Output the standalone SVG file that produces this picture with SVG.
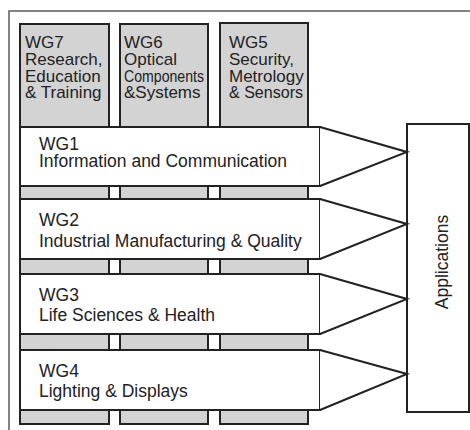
<svg xmlns="http://www.w3.org/2000/svg" width="470" height="430" viewBox="0 0 470 430">
  <style>
    .frame { fill: none; stroke: #5a5a5a; stroke-width: 1.5; }
    .col { fill: #d3d3d3; stroke: #222; stroke-width: 2; }
    .band { fill: #fff; stroke: #222; stroke-width: 2; }
    .arrow { fill: #fff; stroke: #222; stroke-width: 2; stroke-linejoin: miter; }
    .app { fill: #fff; stroke: #222; stroke-width: 2; }
    text { font-family: "Liberation Sans", Arial, sans-serif; font-size: 17.5px; fill: #222; }
    .colText { font-size: 17px; }
  </style>

  <!-- outer frame -->
  <rect class="frame" x="9" y="11" width="470" height="430"/>

  <!-- vertical working groups (drawn behind the bands) -->
  <g id="wg7">
    <rect class="col" x="20" y="24" width="89" height="400"/>
    <text class="colText" x="25" y="48">WG7</text>
    <text class="colText" x="25" y="65">Research,</text>
    <text class="colText" x="25" y="82">Education</text>
    <text class="colText" x="25" y="98">&amp; Training</text>
  </g>
  <g id="wg6">
    <rect class="col" x="120" y="24" width="88" height="400"/>
    <text class="colText" x="124" y="48">WG6</text>
    <text class="colText" x="124" y="65">Optical</text>
    <text class="colText" x="124" y="82" font-size="16" textLength="80" lengthAdjust="spacingAndGlyphs">Components</text>
    <text class="colText" x="124" y="98">&amp;Systems</text>
  </g>
  <g id="wg5">
    <rect class="col" x="220" y="23" width="88" height="401"/>
    <text class="colText" x="229" y="48">WG5</text>
    <text class="colText" x="229" y="65">Security,</text>
    <text class="colText" x="229" y="82">Metrology</text>
    <text class="colText" x="229" y="98" textLength="74" lengthAdjust="spacingAndGlyphs">&amp; Sensors</text>
  </g>

  <!-- horizontal working groups -->
  <g id="wg1">
    <rect class="band" x="20" y="127" width="300" height="59"/>
    <text x="39" y="150">WG1</text>
    <text x="39" y="167">Information and Communication</text>
  </g>
  <g id="wg2">
    <rect class="band" x="20" y="199" width="300" height="60"/>
    <text x="39" y="226">WG2</text>
    <text x="39" y="247">Industrial Manufacturing &amp; Quality</text>
  </g>
  <g id="wg3">
    <rect class="band" x="20" y="274" width="300" height="60"/>
    <text x="39" y="301">WG3</text>
    <text x="39" y="321">Life Sciences &amp; Health</text>
  </g>
  <g id="wg4">
    <rect class="band" x="20" y="350" width="300" height="60"/>
    <text x="39" y="377">WG4</text>
    <text x="39" y="397">Lighting &amp; Displays</text>
  </g>

  <g id="applications">
    <rect class="app" x="407" y="124" width="62" height="288"/>
    <text x="0" y="0" text-anchor="middle" transform="translate(448 262) rotate(-90)">Applications</text>
  </g>

  <!-- funnels from each band into Applications -->
  <g id="connectors">
    <polyline class="arrow" points="320,127 407,152 320,186"/>
    <polyline class="arrow" points="320,199 407,224 320,259"/>
    <polyline class="arrow" points="320,274 407,299 320,334"/>
    <polyline class="arrow" points="320,350 407,374 320,410"/>
  </g>
</svg>
